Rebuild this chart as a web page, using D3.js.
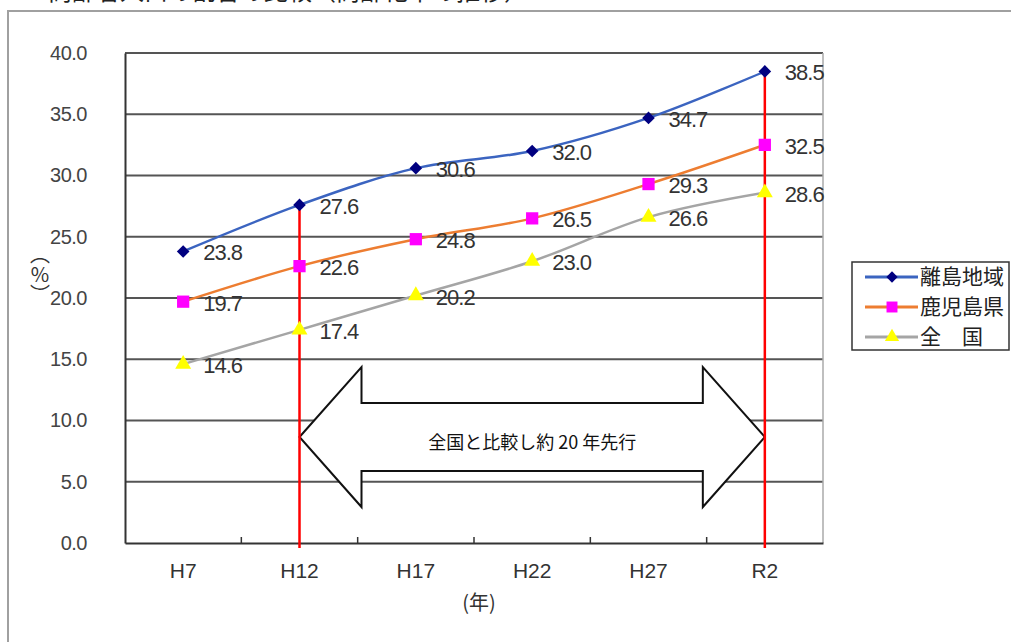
<!DOCTYPE html>
<html>
<head>
<meta charset="utf-8">
<script src="https://cdn.jsdelivr.net/npm/d3@7"></script>
<style>
  body { margin: 0; background: #fff; }
  svg { display: block; font-family: 'Liberation Sans', Arial, sans-serif; }
  .jp { font-family: 'Noto Sans CJK JP', sans-serif; }
  .vert { writing-mode: vertical-rl; text-orientation: upright; }
</style>
</head>
<body>
<div id="chart"></div>
<script>
const years = ['H7', 'H12', 'H17', 'H22', 'H27', 'R2'];
const ritou = [23.8, 27.6, 30.6, 32.0, 34.7, 38.5];
const kagoshima = [19.7, 22.6, 24.8, 26.5, 29.3, 32.5];
const zenkoku = [14.6, 17.4, 20.2, 23.0, 26.6, 28.6];
const yTicks = [0, 5, 10, 15, 20, 25, 30, 35, 40];

// diamond = square turned 45deg (smaller than d3's tall diamond)
const series = [
  {name: '離島地域', values: ritou, line: '#3b64c0', fill: '#000080', shape: d3.symbolSquare, rot: 45, size: 80},
  {name: '鹿児島県', values: kagoshima, line: '#ed7d31', fill: '#ff00ff', shape: d3.symbolSquare, rot: 0, size: 150},
  {name: '全　国', values: zenkoku, line: '#a5a5a5', fill: '#ffff00', shape: d3.symbolTriangle, rot: 0, size: 110}
];

const W = 1011, H = 642;
const plot = {left: 125, right: 823, top: 53, bottom: 543};

const svg = d3.select('#chart').append('svg')
  .attr('width', W).attr('height', H);

// heading, mostly cut off at the top edge as in the source
svg.append('text').attr('class', 'jp')
  .attr('x', 48).attr('y', 0)
  .attr('font-size', 24).attr('fill', '#222')
  .text('高齢者人口の割合の比較（高齢化率の推移）');

// outer frame
svg.append('path')
  .attr('d', `M8,${H + 2}V11H${W + 2}`)
  .attr('fill', 'none').attr('stroke', '#a0a0a0').attr('stroke-width', 2);

const x = d3.scaleBand().domain(years).range([plot.left, plot.right]);
const cx = d => x(d) + x.bandwidth() / 2;
const y = d3.scaleLinear().domain([0, 40]).range([plot.bottom, plot.top]);

// gridlines
svg.append('g').selectAll('line').data(yTicks.filter(d => d > 0)).join('line')
  .attr('x1', plot.left).attr('x2', plot.right)
  .attr('y1', d => y(d)).attr('y2', d => y(d))
  .attr('stroke', '#555').attr('stroke-width', 2);

// right border
svg.append('line')
  .attr('x1', plot.right).attr('x2', plot.right)
  .attr('y1', plot.top).attr('y2', plot.bottom)
  .attr('stroke', '#aaa').attr('stroke-width', 1.5);

// y axis
const yAxis = svg.append('g')
  .attr('transform', `translate(${plot.left},0)`)
  .call(d3.axisLeft(y).tickValues(yTicks).tickFormat(d3.format('.1f')).tickSize(0).tickPadding(38));
yAxis.select('.domain').attr('stroke', '#333').attr('stroke-width', 2);
yAxis.selectAll('text').attr('font-size', 20).attr('fill', '#444')
  .attr('font-family', 'Liberation Sans, Arial, sans-serif').attr('letter-spacing', -0.5);

// x axis
const xAxis = svg.append('g')
  .attr('transform', `translate(0,${plot.bottom})`)
  .call(d3.axisBottom(x).tickSize(0).tickPadding(20));
xAxis.select('.domain').attr('stroke', '#333').attr('stroke-width', 2);
xAxis.selectAll('text').attr('font-size', 21).attr('fill', '#333')
  .attr('font-family', 'Liberation Sans, Arial, sans-serif');
svg.append('g').selectAll('line').data(years.slice(1)).join('line')
  .attr('x1', d => x(d)).attr('x2', d => x(d))
  .attr('y1', plot.bottom).attr('y2', plot.bottom - 6)
  .attr('stroke', '#333').attr('stroke-width', 1.5);

// axis titles
svg.append('text').attr('class', 'jp')
  .attr('x', 479).attr('y', 610)
  .attr('text-anchor', 'middle').attr('font-size', 20).attr('fill', '#333')
  .text('(年)');
svg.append('text').attr('class', 'jp vert')
  .attr('x', 40).attr('y', 274)
  .attr('text-anchor', 'middle').attr('font-size', 20).attr('fill', '#333')
  .text('（%）');

// block double arrow annotation (H12 -> R2)
const ax0 = cx('H12'), ax1 = cx('R2'), ay = y(8.65);
const head = 62, headH = 70, shaftH = 34;
const arrow = [
  [ax0, ay], [ax0 + head, ay - headH], [ax0 + head, ay - shaftH],
  [ax1 - head, ay - shaftH], [ax1 - head, ay - headH], [ax1, ay],
  [ax1 - head, ay + headH], [ax1 - head, ay + shaftH],
  [ax0 + head, ay + shaftH], [ax0 + head, ay + headH]
];
svg.append('polygon')
  .attr('points', arrow.map(p => p.join(',')).join(' '))
  .attr('fill', '#fff').attr('stroke', '#111').attr('stroke-width', 2);
svg.append('text').attr('class', 'jp')
  .attr('x', (ax0 + ax1) / 2).attr('y', ay + 12)
  .attr('text-anchor', 'middle').attr('font-size', 18).attr('fill', '#111')
  .text('全国と比較し約 20 年先行');

// red reference lines
const refs = ['H12', 'R2'];
svg.append('g').selectAll('line').data(refs).join('line')
  .attr('x1', d => cx(d)).attr('x2', d => cx(d))
  .attr('y1', d => y(ritou[years.indexOf(d)])).attr('y2', plot.bottom + 5)
  .attr('stroke', '#ff0000').attr('stroke-width', 2.5);

// series lines
const line = d3.line()
  .x((d, i) => cx(years[i]))
  .y(d => y(d))
  .curve(d3.curveCatmullRom.alpha(0.5));

series.forEach(s => {
  svg.append('path').datum(s.values)
    .attr('d', line)
    .attr('fill', 'none').attr('stroke', s.line).attr('stroke-width', 2.5);
});

series.forEach(s => {
  svg.append('g').selectAll('path').data(s.values).join('path')
    .attr('transform', (d, i) => `translate(${cx(years[i])},${y(d)}) rotate(${s.rot})`)
    .attr('d', d3.symbol().type(s.shape).size(s.size))
    .attr('fill', s.fill);
  svg.append('g').selectAll('text').data(s.values).join('text')
    .attr('x', (d, i) => cx(years[i]) + 20)
    .attr('y', d => y(d) + 9)
    .attr('font-size', 22).attr('fill', '#333').attr('letter-spacing', -1)
    .text(d => d3.format('.1f')(d));
});

// legend
const lg = svg.append('g');
lg.append('rect')
  .attr('x', 852).attr('y', 262).attr('width', 157).attr('height', 88)
  .attr('fill', '#fff').attr('stroke', '#333').attr('stroke-width', 1.5);
const rows = lg.selectAll('g').data(series).join('g')
  .attr('transform', (d, i) => `translate(0,${277 + i * 30})`);
rows.append('line')
  .attr('x1', 865).attr('x2', 918)
  .attr('stroke', d => d.line).attr('stroke-width', 3);
rows.append('path')
  .attr('transform', d => `translate(892,0) rotate(${d.rot})`)
  .attr('d', d => d3.symbol().type(d.shape).size(d.size * 0.8)())
  .attr('fill', d => d.fill);
rows.append('text').attr('class', 'jp')
  .attr('x', 920).attr('y', 7)
  .attr('font-size', 21).attr('fill', '#222')
  .text(d => d.name);
</script>
</body>
</html>
